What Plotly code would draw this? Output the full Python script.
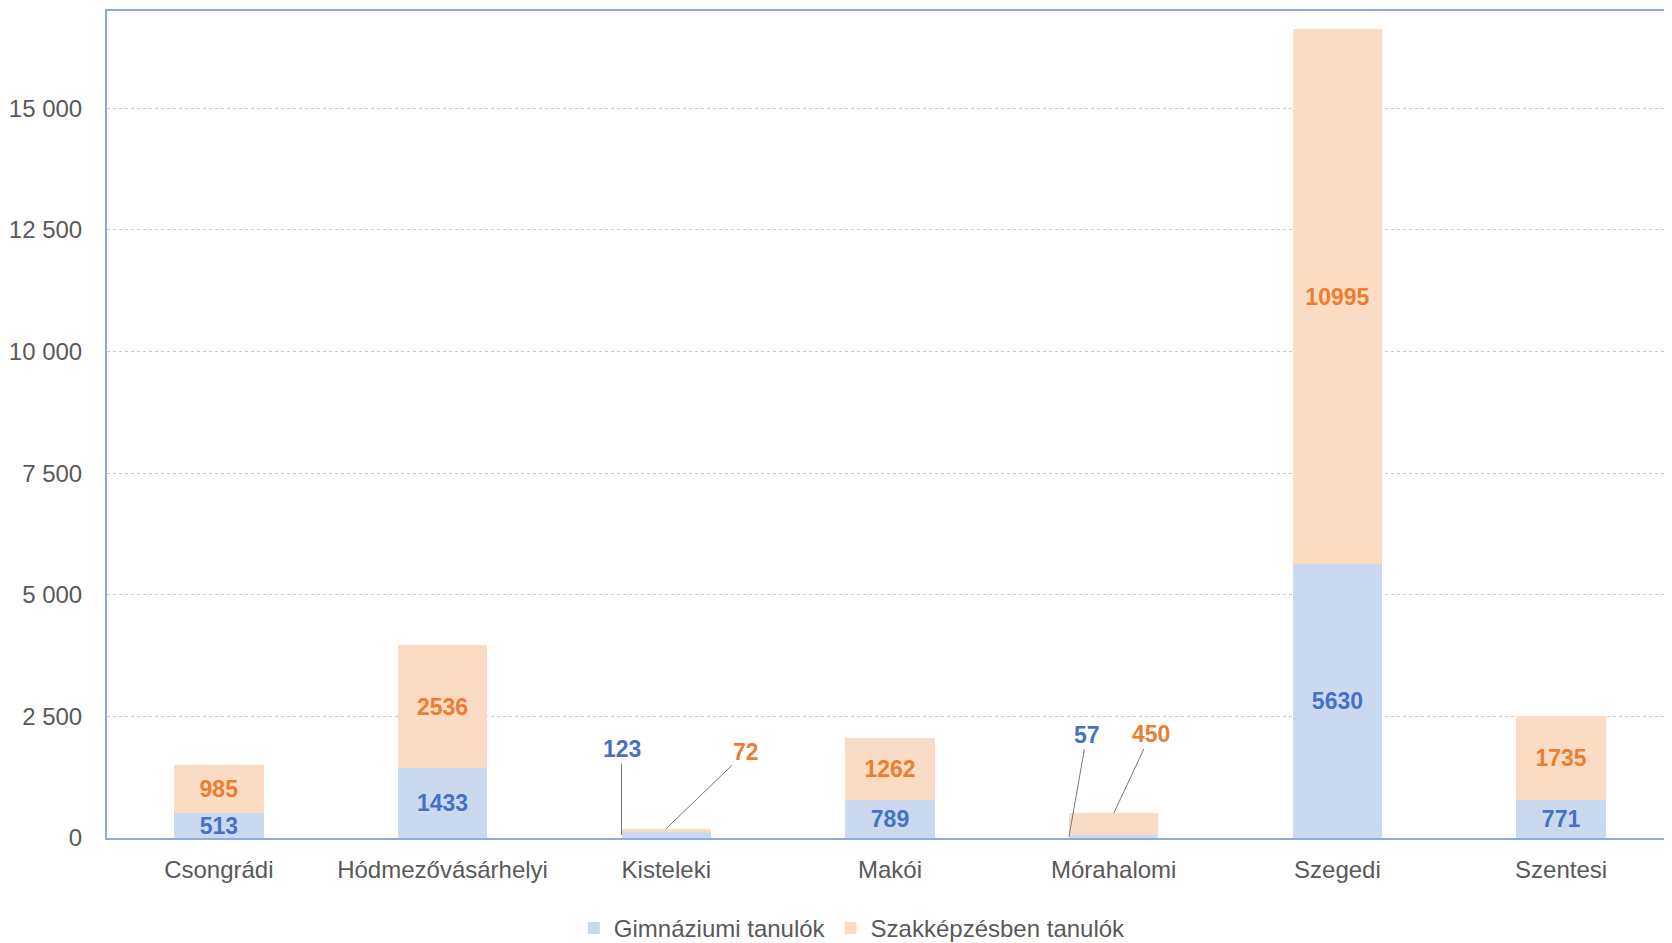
import plotly.graph_objects as go

categories = ["Csongrádi", "Hódmezővásárhelyi", "Kisteleki", "Makói", "Mórahalomi", "Szegedi", "Szentesi"]
gimnaziumi = [513, 1433, 123, 789, 57, 5630, 771]
szakkepzes = [985, 2536, 72, 1262, 450, 10995, 1735]
series_names = ["Gimnáziumi tanulók", "Szakképzésben tanulók"]
callout_categories = ["Kisteleki", "Mórahalomi"]
y_ticks = [0, 2500, 5000, 7500, 10000, 12500, 15000]

BLUE_FILL = "rgb(203,217,240)"
ORANGE_FILL = "rgb(250,220,196)"
BLUE_TXT = "rgb(68,114,196)"
ORANGE_TXT = "rgb(237,125,49)"
GRAY_TXT = "rgb(89,89,89)"
AXIS_BLUE = "rgb(143,170,220)"
FONT = "Liberation Sans Narrow, Arial Narrow, Liberation Sans, Arial, sans-serif"
LBL_SIZE = 23

def labels(vals):
    return ["" if c in callout_categories else str(v) for c, v in zip(categories, vals)]

fig = go.Figure()
fig.add_trace(go.Bar(
    x=categories, y=gimnaziumi, name=series_names[0],
    marker=dict(color=BLUE_FILL, line=dict(width=0)),
    text=labels(gimnaziumi), textposition="inside", insidetextanchor="middle",
    textfont=dict(color=BLUE_TXT, size=LBL_SIZE, family=FONT, weight="bold"), constraintext="none",
    cliponaxis=False,
))
fig.add_trace(go.Bar(
    x=categories, y=szakkepzes, name=series_names[1],
    marker=dict(color=ORANGE_FILL, line=dict(width=0)),
    text=labels(szakkepzes), textposition="inside", insidetextanchor="middle",
    textfont=dict(color=ORANGE_TXT, size=LBL_SIZE, family=FONT, weight="bold"), constraintext="none",
    cliponaxis=False,
))

# leader-line callouts for the small bars
offsets = {
    "Kisteleki": [(-0.2, 0, -86), (0.0, 80, -77)],
    "Mórahalomi": [(-0.2, 18, -102), (0.0, 37, -79)],
}
for cat in callout_categories:
    i = categories.index(cat)
    g, s = gimnaziumi[i], szakkepzes[i]
    (dx1, ax1, ay1), (dx2, ax2, ay2) = offsets[cat]
    fig.add_annotation(x=i + dx1, y=g / 2, text=str(g), showarrow=True, arrowhead=0,
                       arrowwidth=1, arrowcolor="rgb(120,120,120)", ax=ax1, ay=ay1,
                       font=dict(color=BLUE_TXT, size=LBL_SIZE, family=FONT, weight="bold"))
    fig.add_annotation(x=i + dx2, y=g + s, text=str(s), showarrow=True, arrowhead=0,
                       arrowwidth=1, arrowcolor="rgb(120,120,120)", ax=ax2, ay=ay2,
                       font=dict(color=ORANGE_TXT, size=LBL_SIZE, family=FONT, weight="bold"))

fig.update_layout(
    barmode="stack", bargap=0.6,
    width=1672, height=943,
    margin=dict(l=94, r=7, t=1, b=113),
    paper_bgcolor="white", plot_bgcolor="white",
    separators=", ",
    font=dict(family=FONT, color=GRAY_TXT, size=24),
    showlegend=True,
    legend=dict(orientation="h", traceorder="normal", xref="container", yref="container",
                x=0.505, y=0.024, xanchor="center", yanchor="middle",
                font=dict(size=24, color=GRAY_TXT), itemsizing="constant"),
)
fig.update_xaxes(showline=True, linecolor=AXIS_BLUE, linewidth=2, mirror=True,
                 showgrid=False, tickfont=dict(size=24, color=GRAY_TXT), ticks="",
                 ticklabelstandoff=9)
fig.update_yaxes(range=[0, 17000], tickvals=y_ticks, tickformat=",d",
                 showline=True, linecolor=AXIS_BLUE, linewidth=2,
                 showgrid=True, gridcolor="rgb(200,200,200)", griddash="dot", gridwidth=1,
                 zeroline=False, tickfont=dict(size=24, color=GRAY_TXT), ticks="",
                 ticklabelstandoff=18)

fig.write_html("out.html")
